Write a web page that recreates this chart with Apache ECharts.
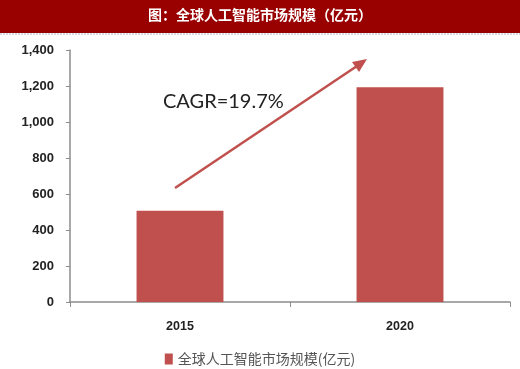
<!DOCTYPE html>
<html><head><meta charset="utf-8">
<script src="https://cdn.jsdelivr.net/npm/echarts@6/dist/echarts.min.js"></script>
<style>html,body{margin:0;padding:0;background:#fff}#c{width:520px;height:369px}</style>
</head><body><div id="c"></div>
<script>
const titleText = '图：全球人工智能市场规模（亿元）';
const seriesName = '全球人工智能市场规模(亿元)';
const categories = ['2015', '2020'];
const values = [507, 1193];
const yTicks = [0, 200, 400, 600, 800, 1000, 1200, 1400];
const cagrText = 'CAGR=19.7%';

const chart = echarts.init(document.getElementById('c'), null, {renderer: 'canvas'});
chart.setOption({
  animation: false,
  backgroundColor: '#fff',
  grid: {left: 70, right: 10, top: 50, bottom: 67},
  legend: {
    bottom: -2, left: 'center',
    itemWidth: 8, itemHeight: 11, itemGap: 5,
    icon: 'rect',
    textStyle: {color: '#555', fontSize: 14, fontFamily: 'Noto Sans CJK SC'},
    data: [seriesName]
  },
  xAxis: {
    type: 'category', data: categories,
    axisLine: {lineStyle: {color: '#8c8c8c', width: 1.5}},
    axisTick: {show: true, length: 5, lineStyle: {color: '#8c8c8c'}},
    axisLabel: {color: '#222', fontWeight: 'bold', fontSize: 12.5, margin: 18, fontFamily: 'Liberation Sans'}
  },
  yAxis: {
    type: 'value', min: yTicks[0], max: yTicks[yTicks.length - 1], interval: 200,
    splitLine: {show: false},
    axisLine: {show: true, lineStyle: {color: '#8c8c8c', width: 1.5}},
    axisTick: {show: true, length: 4, lineStyle: {color: '#8c8c8c'}},
    axisLabel: {
      color: '#222', fontWeight: 'bold', fontSize: 13, margin: 16, fontFamily: 'Liberation Sans',
      formatter: v => v.toLocaleString('en-US')
    }
  },
  series: [{
    name: seriesName, type: 'bar', data: values, barWidth: '39.5%',
    itemStyle: {color: '#c0504d'}
  }],
  graphic: [
    {type: 'rect', left: 0, top: 0, shape: {width: 520, height: 33}, style: {fill: '#990000'}, z: 10},
    {type: 'line', shape: {x1: 0, y1: 34, x2: 520, y2: 34}, style: {stroke: '#a8b4cc', lineWidth: 1, lineDash: [2, 1]}, z: 10},
    {type: 'text', left: 'center', top: 8, style: {text: titleText, fill: '#fff', font: 'bold 14px "Noto Sans CJK SC"'}, z: 11},
    {type: 'line', shape: {x1: 175, y1: 188, x2: 360, y2: 64}, style: {stroke: '#c0504d', lineWidth: 2.5}, z: 10},
    {type: 'polygon', shape: {points: [[367, 59], [352, 62], [359, 72]]}, style: {fill: '#c0504d'}, z: 10},
    {type: 'text', left: 163, top: 92, style: {text: cagrText, fill: '#222', font: '20px Lato'}, z: 11}
  ]
});
</script></body></html>
